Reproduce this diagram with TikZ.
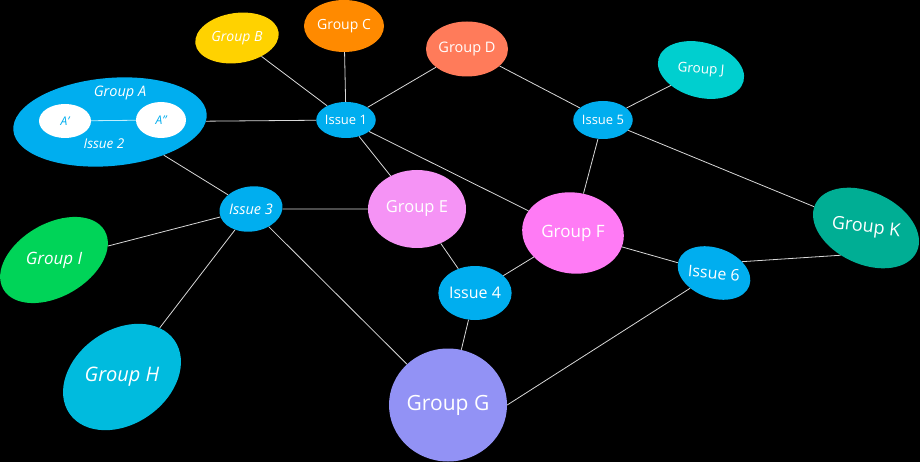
\documentclass[tikz,border=0pt]{standalone}
\usepackage{fontspec}
\setmainfont{Open Sans}
\usetikzlibrary{shapes.geometric}
\definecolor{issueBlue}{HTML}{00AEEF}
\definecolor{linkGray}{HTML}{D8D8D8}
\definecolor{innerLine}{HTML}{BDEFFF}
\definecolor{gB}{HTML}{FFD200}
\definecolor{gC}{HTML}{FF8A00}
\definecolor{gD}{HTML}{FF7B5A}
\definecolor{gE}{HTML}{F593F5}
\definecolor{gF}{HTML}{FF7BF5}
\definecolor{gG}{HTML}{9292F5}
\definecolor{gH}{HTML}{00BBDE}
\definecolor{gI}{HTML}{00D458}
\definecolor{gJ}{HTML}{00CFCF}
\definecolor{gK}{HTML}{00AE94}
\newcommand{\fs}[1]{\fontsize{#1}{#1}\selectfont}
\tikzset{
  blob/.style={ellipse, inner sep=0pt, text=white},
  issue/.style={blob, fill=issueBlue},
  link/.style={draw=linkGray, line width=0.8pt},
}

\begin{document}
\begin{tikzpicture}[x=1pt, y=-1pt]
\useasboundingbox (0,0) rectangle (920,462);
\fill[black] (0,0) rectangle (920,462);
% group A with its inner issue
\node[issue, minimum width=194, minimum height=88, rotate=5] (gA) at (110,122) {};
\node[blob, fill=white, minimum width=52, minimum height=34, text=issueBlue, font=\fs{12}\itshape] (a1) at (65,121) {A'};
\node[blob, fill=white, minimum width=50, minimum height=36, text=issueBlue, font=\fs{12}\itshape] (a2) at (161,120) {A"};
\node[text=white, font=\fs{14.5}\itshape] (gAlbl) at (120,93) {Group A};
\node[text=white, font=\fs{13.5}\itshape] (i2lbl) at (104,144) {Issue 2};
\draw[innerLine, line width=0.8pt] (a1) -- (a2);
% groups
\node[blob, fill=gB, minimum width=84, minimum height=50, rotate=8, font=\fs{14}\itshape] (gB) at (237,38) {\rotatebox{-8}{Group B}};
\node[blob, fill=gC, minimum width=80, minimum height=52, font=\fs{14}] (gC) at (344,26) {Group C};
\node[blob, fill=gD, minimum width=82, minimum height=55, font=\fs{14.5}] (gD) at (467,49) {Group D};
\node[blob, fill=gJ, minimum width=88, minimum height=55, rotate=-15, font=\fs{13.5}] (gJ) at (701,70) {\rotatebox{10}{Group J}};
\node[blob, fill=gE, minimum width=98, minimum height=78, font=\fs{16.5}] (gE) at (417,209) {Group E};
\node[blob, fill=gF, minimum width=102, minimum height=81, rotate=-8, font=\fs{17}] (gF) at (573,233) {\rotatebox{8}{Group F}};
\node[blob, fill=gK, minimum width=112, minimum height=72, rotate=-25, font=\fs{18}] (gK) at (866,228) {\rotatebox{18}{Group K}};
\node[blob, fill=gI, minimum width=117, minimum height=73, rotate=30, font=\fs{17}\itshape] (gI) at (54,260) {\rotatebox{-30}{Group I}};
\node[blob, fill=gH, minimum width=128, minimum height=94, rotate=35, font=\fs{20}\itshape] (gH) at (122,377) {\rotatebox{-35}{Group H}};
\node[blob, fill=gG, minimum width=118, minimum height=113, font=\fs{21}] (gG) at (448,405) {Group G};
% issues
\node[issue, minimum width=52, minimum height=36, font=\fs{13}] (i1) at (346,120) {Issue 1};
\node[issue, minimum width=56, minimum height=45, rotate=8, font=\fs{14.5}\itshape] (i3) at (251,209) {\rotatebox{-8}{Issue 3}};
\node[issue, minimum width=62, minimum height=54, font=\fs{16}] (i4) at (475,293) {Issue 4};
\node[issue, minimum width=52, minimum height=38, font=\fs{13}] (i5) at (603,120) {Issue 5};
\node[issue, minimum width=64, minimum height=50, rotate=-20, font=\fs{16}] (i6) at (714,273) {\rotatebox{15}{Issue 6}};
% links
\draw[link] (gB) -- (i1);
\draw[link] (gC) -- (i1);
\draw[link] (gD) -- (i1);
\draw[link] (gA) -- (i1);
\draw[link] (i1) -- (gE);
\draw[link] (i1) -- (gF);
\draw[link] (gA) -- (i3);
\draw[link] (gD) -- (i5);
\draw[link] (gJ) -- (i5);
\draw[link] (i5) -- (gF);
\draw[link] (i5) -- (gK);
\draw[link] (i3) -- (gI);
\draw[link] (i3) -- (gE);
\draw[link] (i3) -- (gH);
\draw[link] (i3) -- (gG);
\draw[link] (gE) -- (i4);
\draw[link] (i4) -- (gF);
\draw[link] (i4) -- (gG);
\draw[link] (gF) -- (i6);
\draw[link] (i6.42) -- (gK.252);
\draw[link] (i6) -- (gG.east);
\end{tikzpicture}
\end{document}
